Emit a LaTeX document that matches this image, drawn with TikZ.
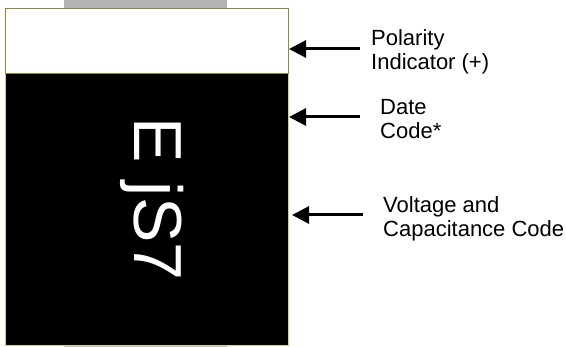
\documentclass[tikz,border=0pt]{standalone}
\usepackage{fontspec}
\setmainfont{Liberation Sans}
\usetikzlibrary{arrows.meta}
\definecolor{olive}{HTML}{8E8A3A}
\definecolor{paleolive}{HTML}{D6CF78}
\definecolor{tabgray}{HTML}{B3B3B3}
\tikzset{
  pointer/.style={line width=3pt,-{Triangle[length=17pt,width=17pt]}},
  label/.style={anchor=base west,align=left,inner sep=0pt,font=\fontsize{22}{24}\selectfont}
}
\begin{document}
\begin{tikzpicture}[x=1pt,y=-1pt]
\useasboundingbox (0,0) rectangle (566,347);
% tabs
\fill[tabgray] (64,0) rectangle (227,8);
\fill[tabgray!80] (64,344) rectangle (227,347);
% body
\node[draw=paleolive,fill=black,line width=1.5pt,minimum width=283pt,minimum height=272pt,inner sep=0pt,anchor=north west] (body) at (4.5,73) {};
\node[draw=olive,fill=white,line width=1.5pt,minimum width=283pt,minimum height=65pt,inner sep=0pt,anchor=north west] (band) at (4.5,8) {};
\node[rotate=-90,text=white,font=\fontsize{68}{68}\selectfont,inner sep=0pt] (code) at (152,199) {E jS7};
% labels
\node[label] (pol) at (371,70) {Polarity\\Indicator (+)};
\node[label] (date) at (380,139) {Date\\Code*};
\node[label] (volt) at (383,237) {Voltage and\\Capacitance Code};
% arrows
\coordinate (p1) at (360,49);
\coordinate (p2) at (360,117);
\coordinate (p3) at (363,215);
\coordinate (t1) at (289,49);
\coordinate (t2) at (289,117);
\coordinate (t3) at (292,215);
\draw[pointer] (p1) -- (t1);
\draw[pointer] (p2) -- (t2);
\draw[pointer] (p3) -- (t3);
\end{tikzpicture}
\end{document}
